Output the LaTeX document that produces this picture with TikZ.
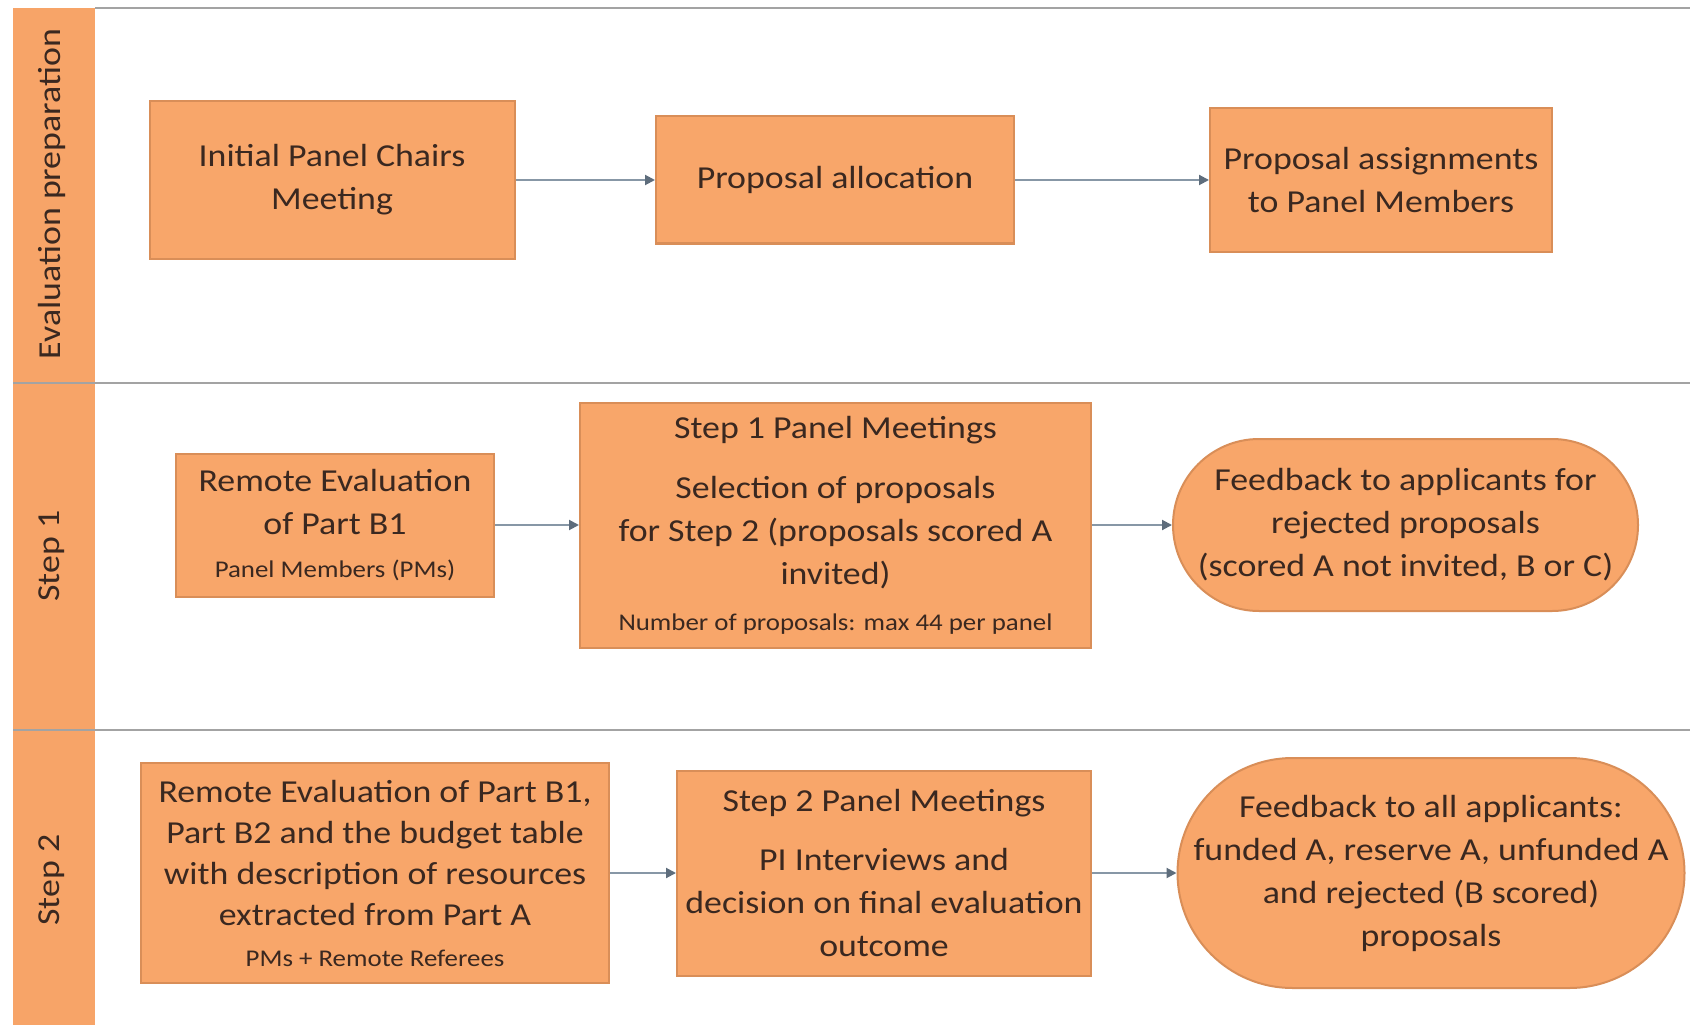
\documentclass[tikz,border=0pt]{standalone}
\usepackage{fontspec}
\setmainfont{Carlito}[FakeStretch=1.12]
\usetikzlibrary{arrows.meta}
\definecolor{boxfill}{HTML}{F8A66A}
\definecolor{lanefill}{HTML}{F7A468}
\definecolor{boxborder}{HTML}{D98E58}
\definecolor{txt}{HTML}{3A2820}
\definecolor{laneline}{HTML}{A3A3A3}
\definecolor{arrowgrey}{HTML}{8797A6}
\definecolor{tipgrey}{HTML}{5E6D7C}
\tikzset{
  box/.style={draw=boxborder, fill=boxfill, line width=1pt, inner sep=0pt,
    align=center, text=txt, font=\fontsize{16}{21.5}\selectfont},
  roundbox/.style={box, rounded corners=#1},
  flow/.style={draw=arrowgrey, line width=1pt,
    -{Triangle[length=5pt,width=5pt,color=tipgrey]}},
  lanesep/.style={draw=laneline, line width=1.2pt},
  lanelabel/.style={rotate=90, text=txt, font=\fontsize{16}{20}\selectfont, inner sep=0pt},
}
\newcommand{\smalltext}[1]{{\fontsize{12}{21.5}\selectfont #1}}
\begin{document}
\begin{tikzpicture}[x=0.5pt,y=-0.5pt]
\useasboundingbox (0,0) rectangle (1690,1027);
\fill[white] (0,0) rectangle (1690,1027);
% lane headers
\fill[lanefill] (13,8) rectangle (95,1025);
\draw[lanesep] (95,8) -- (1690,8);
\draw[lanesep] (13,383) -- (1690,383);
\draw[lanesep] (13,730) -- (1690,730);
\node[lanelabel] (l1) at (52,194) {Evaluation preparation};
\node[lanelabel] (l2) at (52,556) {Step 1};
\node[lanelabel] (l3) at (52,880) {Step 2};
% row 1
\node[box, minimum width=182.5pt, minimum height=78.5pt] (b1) at (332,180)
  {Initial Panel Chairs\\Meeting};
\node[box, minimum width=179pt, minimum height=63.5pt] (b2) at (835,180)
  {Proposal allocation};
\node[box, minimum width=171pt, minimum height=72pt] (b3) at (1381,180)
  {Proposal assignments\\to Panel Members};
% row 2
\node[box, minimum width=159pt, minimum height=71.5pt] (b4) at (335,525)
  {Remote Evaluation\\of Part B1\\\smalltext{Panel Members (PMs)}};
\node[box, minimum width=255.5pt, minimum height=122.5pt] (b5) at (835.5,525)
  {Step 1 Panel Meetings\\[8.5pt]Selection of proposals\\for Step 2 (proposals scored A\\invited)\\[1.5pt]\smalltext{Number of proposals: max 44 per panel}};
\node[roundbox=43pt, minimum width=232.5pt, minimum height=86pt] (b6) at (1405.5,525)
  {Feedback to applicants for\\rejected proposals\\(scored A not invited, B or C)};
% row 3
\node[box, minimum width=234pt, minimum height=110pt, font=\fontsize{16}{20.5}\selectfont] (b7) at (375,873)
  {Remote Evaluation of Part B1,\\Part B2 and the budget table\\with description of resources\\extracted from Part A\\\smalltext{PMs + Remote Referees}};
\node[box, minimum width=207pt, minimum height=102.5pt] (b8) at (884,873)
  {Step 2 Panel Meetings\\[8pt]PI Interviews and\\decision on final evaluation\\outcome};
\node[roundbox=57.5pt, minimum width=253.5pt, minimum height=115pt] (b9) at (1431,873)
  {Feedback to all applicants:\\funded A, reserve A, unfunded A\\and rejected (B scored)\\proposals};
% connectors
\draw[flow] (b1.east) -- (b2.west);
\draw[flow] (b2.east) -- (b3.west);
\draw[flow] (b4.east) -- (b5.west);
\draw[flow] (b5.east) -- (b6.west);
\draw[flow] (b7.east) -- (b8.west);
\draw[flow] (b8.east) -- (b9.west);
\end{tikzpicture}
\end{document}
